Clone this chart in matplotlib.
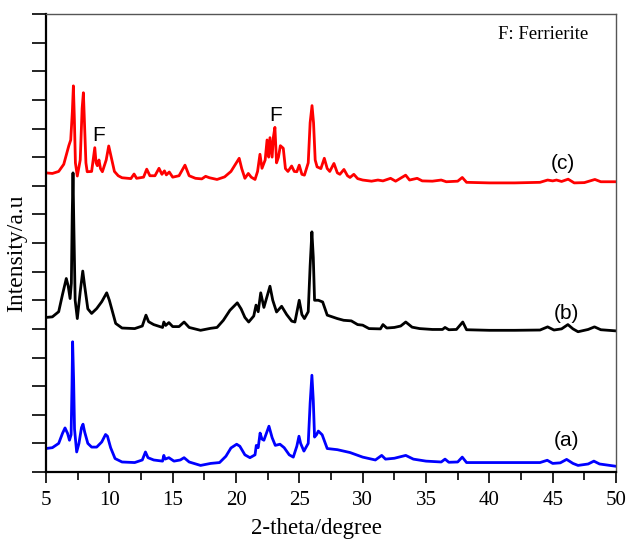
import matplotlib
matplotlib.use("Agg")
import matplotlib.pyplot as plt
from matplotlib.ticker import MultipleLocator

# XRD patterns: 2-theta (degree) and offset intensity (a.u.)
two_theta_a = [5.0, 5.5, 6.0, 6.3, 6.5, 6.7, 6.85, 6.98, 7.05, 7.1, 7.18, 7.25, 7.42, 7.6, 7.8, 7.92,
               8.05, 8.3, 8.6, 9.0, 9.4, 9.7, 9.85, 10.1, 10.45, 11.0, 12.0, 12.6, 12.85, 13.05, 13.5,
               14.2, 14.3, 14.4, 14.7, 15.1, 15.6, 15.9, 16.3, 17.2, 18.0, 18.7, 19.2, 19.6, 20.05,
               20.3, 20.7, 21.1, 21.5, 21.6, 21.75, 21.9, 22.05, 22.2, 22.6, 22.85, 23.1, 23.47, 23.8,
               24.2, 24.52, 24.8, 24.97, 25.1, 25.36, 25.7, 25.85, 25.99, 26.1, 26.2, 26.35, 26.5, 26.8,
               27.2, 28.0, 28.5, 29.0, 30.0, 31.0, 31.5, 31.8, 32.5, 33.4, 34.0, 35.0, 36.2, 36.5, 36.8,
               37.5, 37.86, 38.2, 40.0, 42.0, 44.0, 44.57, 45.0, 45.6, 46.1, 46.6, 47.0, 47.8, 48.25,
               48.7, 50.0]
intensity_a = [0.82, 0.85, 1.0, 1.35, 1.54, 1.35, 1.11, 1.3, 3.0, 4.55, 3.2, 1.5, 0.70, 1.0, 1.55, 1.67,
               1.4, 1.0, 0.87, 0.87, 1.05, 1.31, 1.25, 0.85, 0.47, 0.35, 0.33, 0.42, 0.70, 0.5, 0.42,
               0.38, 0.58, 0.45, 0.5, 0.38, 0.42, 0.5, 0.35, 0.23, 0.30, 0.33, 0.55, 0.84, 0.97,
               0.9, 0.6, 0.50, 0.6, 0.93, 0.85, 1.36, 1.15, 1.11, 1.6, 1.2, 0.93, 0.97, 0.85,
               0.6, 0.52, 0.9, 1.25, 1.0, 0.73, 1.0, 2.4, 3.38, 2.5, 1.22, 1.3, 1.43, 1.3,
               0.82, 0.78, 0.73, 0.68, 0.52, 0.42, 0.58, 0.45, 0.48, 0.58, 0.45, 0.38, 0.35, 0.45, 0.34,
               0.35, 0.52, 0.33, 0.33, 0.33, 0.33, 0.41, 0.30, 0.32, 0.44, 0.3, 0.23, 0.28, 0.38,
               0.28, 0.2]

two_theta_b = [5.0, 5.5, 6.0, 6.3, 6.6, 6.75, 6.9, 7.0, 7.07, 7.13, 7.2, 7.3, 7.47, 7.7, 7.9, 8.05,
               8.3, 8.6, 9.0, 9.4, 9.79, 10.0, 10.5, 11.0, 12.0, 12.6, 12.89, 13.1, 13.5, 14.2, 14.3,
               14.45, 14.7, 15.0, 15.5, 15.9, 16.3, 17.2, 18.0, 18.5, 19.0, 19.52, 20.1, 20.4, 20.7,
               21.0, 21.4, 21.58, 21.75, 21.95, 22.2, 22.68, 22.9, 23.2, 23.6, 24.0, 24.4, 24.65,
               24.99, 25.2, 25.4, 25.7, 25.85, 25.99, 26.1, 26.2, 26.5, 26.84, 27.2, 28.0, 28.5, 29.1,
               29.6, 30.0, 30.5, 31.4, 31.6, 31.9, 32.5, 33.0, 33.4, 33.9, 34.5, 35.5, 36.3, 36.5, 36.8,
               37.4, 37.9, 38.2, 40.0, 42.0, 44.0, 44.6, 45.1, 45.7, 46.2, 46.6, 47.0, 47.8, 48.3,
               48.8, 50.0]
intensity_b = [5.40, 5.42, 5.6, 6.2, 6.76, 6.5, 6.06, 6.6, 9.0, 10.45, 8.5, 6.0, 5.36, 6.3, 7.02, 6.5,
               5.7, 5.54, 5.71, 5.95, 6.26, 6.0, 5.19, 5.03, 5.01, 5.1, 5.48, 5.25, 5.15, 5.05, 5.24,
               5.12, 5.22, 5.08, 5.08, 5.24, 5.05, 4.95, 5.02, 5.05, 5.3, 5.65, 5.91, 5.7, 5.4,
               5.24, 5.45, 5.83, 5.6, 6.26, 5.75, 6.49, 6.0, 5.59, 5.79, 5.5, 5.27, 5.24,
               6.0, 5.5, 5.36, 5.6, 7.2, 8.39, 7.5, 6.0, 6.0, 5.94, 5.48, 5.36, 5.30, 5.28,
               5.15, 5.13, 5.01, 5.0, 5.15, 5.03, 5.05, 5.1, 5.24, 5.06, 5.01, 4.98, 4.98, 5.05, 4.97,
               4.98, 5.24, 4.97, 4.95, 4.95, 4.96, 5.07, 4.96, 5.0, 5.15, 5.0, 4.9, 4.98, 5.07,
               4.97, 4.93]

two_theta_c = [5.0, 5.5, 6.0, 6.4, 6.8, 6.95, 7.08, 7.16, 7.24, 7.32, 7.47, 7.7, 7.85, 7.95, 8.05, 8.15,
               8.25, 8.6, 8.75, 8.85, 8.95, 9.05, 9.18, 9.3, 9.45, 9.75, 9.95, 10.15, 10.4, 10.7, 11.0,
               11.7, 11.95, 12.15, 12.7, 12.95, 13.2, 13.6, 13.92, 14.15, 14.35, 14.5, 14.73, 15.0,
               15.5, 15.97, 16.3, 16.8, 17.3, 17.6, 17.9, 18.5, 19.1, 19.6, 19.95, 20.25, 20.45, 20.7,
               20.97, 21.2, 21.5, 21.7, 21.89, 22.05, 22.3, 22.45, 22.58, 22.68, 22.85, 22.95, 23.07,
               23.2, 23.35, 23.5, 23.73, 23.9, 24.1, 24.39, 24.6, 24.8, 24.99, 25.2, 25.4, 25.7, 25.85,
               26.0, 26.12, 26.25, 26.4, 26.7, 26.97, 27.2, 27.4, 27.73, 28.0, 28.2, 28.52, 28.8, 29.0,
               29.3, 29.6, 30.0, 30.7, 31.2, 31.6, 32.2, 32.6, 33.39, 33.7, 34.3, 34.7, 35.5, 36.2,
               36.6, 37.5, 37.86, 38.2, 40.0, 42.0, 44.0, 44.6, 45.0, 45.3, 45.7, 46.22, 46.7, 47.5,
               48.33, 48.8, 50.0]
intensity_c = [10.45, 10.43, 10.5, 10.75, 11.4, 11.6, 12.6, 13.49, 12.3, 10.8, 10.34, 10.9, 12.7, 13.25, 12.0, 10.8,
               10.49, 10.5, 11.0, 11.33, 10.8, 10.7, 10.9, 10.6, 10.49, 10.9, 11.39, 11.0, 10.5, 10.35, 10.28,
               10.25, 10.41, 10.26, 10.3, 10.58, 10.35, 10.35, 10.61, 10.4, 10.52, 10.38, 10.48, 10.3,
               10.35, 10.72, 10.35, 10.26, 10.24, 10.33, 10.28, 10.22, 10.31, 10.5, 10.75, 10.96, 10.6, 10.26,
               10.43, 10.3, 10.22, 10.5, 11.1, 10.61, 10.9, 11.6, 11.0, 11.68, 11.0, 11.7, 12.04,
               10.8, 11.0, 11.4, 11.31, 10.6, 10.5, 10.69, 10.5, 10.49, 10.72, 10.4, 10.37, 10.8, 12.2,
               12.8, 12.2, 10.9, 10.66, 10.6, 10.96, 10.6, 10.5, 10.78, 10.45, 10.4, 10.57, 10.35, 10.29,
               10.4, 10.25, 10.2, 10.16, 10.2, 10.17, 10.26, 10.16, 10.37, 10.2, 10.26, 10.17, 10.16, 10.2,
               10.14, 10.16, 10.29, 10.12, 10.1, 10.1, 10.12, 10.2, 10.17, 10.2, 10.15, 10.23, 10.1, 10.11,
               10.22, 10.14, 10.14]

sample_labels = ["(a)", "(b)", "(c)"]
x_ticks = [5, 10, 15, 20, 25, 30, 35, 40, 45, 50]

fig = plt.figure(figsize=(6.27, 5.39), dpi=100)
ax = fig.add_axes([0.0734, 0.1243, 0.9091, 0.8497])

ax.plot(two_theta_a, intensity_a, color="#0000ff", lw=2.0, solid_joinstyle="round")
ax.plot(two_theta_b, intensity_b, color="#000000", lw=2.0, solid_joinstyle="round")
ax.plot(two_theta_c, intensity_c, color="#ff0000", lw=2.0, solid_joinstyle="round")

ax.set_xlim(5, 50)
ax.set_ylim(0, 16)
ax.set_xticks(x_ticks)
ax.xaxis.set_minor_locator(MultipleLocator(2.5))
ax.yaxis.set_major_locator(MultipleLocator(1))
ax.set_yticklabels([])

serif = "Liberation Serif"
sans = "Liberation Sans"
for lbl in ax.get_xticklabels():
    lbl.set_fontfamily(serif)
    lbl.set_fontsize(15)

ax.tick_params(axis="x", which="major", direction="out", length=8, width=1.2, pad=6)
ax.tick_params(axis="x", which="minor", direction="out", length=6, width=1.2)
ax.tick_params(axis="y", which="major", direction="out", length=10, width=1.2)

for side in ("left", "bottom"):
    ax.spines[side].set_linewidth(1.6)
    ax.spines[side].set_color("black")
for side in ("top", "right"):
    ax.spines[side].set_linewidth(1.0)
    ax.spines[side].set_color("#555555")

ax.set_xlabel("2-theta/degree", fontfamily=serif, fontsize=16.5)
ax.xaxis.label.set_va("baseline")
ax.xaxis.set_label_coords(0.4746, -0.1354)
ax.set_ylabel("Intensity/a.u", fontfamily=serif, fontsize=17)
ax.yaxis.set_label_coords(-0.034, 0.478)

label_pos = [(46.1, 1.11), (46.1, 5.54), (45.8, 10.78)]
for text, (xx, yy) in zip(sample_labels, label_pos):
    ax.text(xx, yy, text, fontfamily=sans, fontsize=15, ha="center", va="center")

ax.text(9.13, 11.77, "F", fontfamily=sans, fontsize=15, ha="center", va="center")
ax.text(23.15, 12.47, "F", fontfamily=sans, fontsize=15, ha="center", va="center")
ax.text(44.25, 15.27, "F: Ferrierite", fontfamily=serif, fontsize=13.5, ha="center", va="center")

fig.savefig("out.png", dpi=100)
